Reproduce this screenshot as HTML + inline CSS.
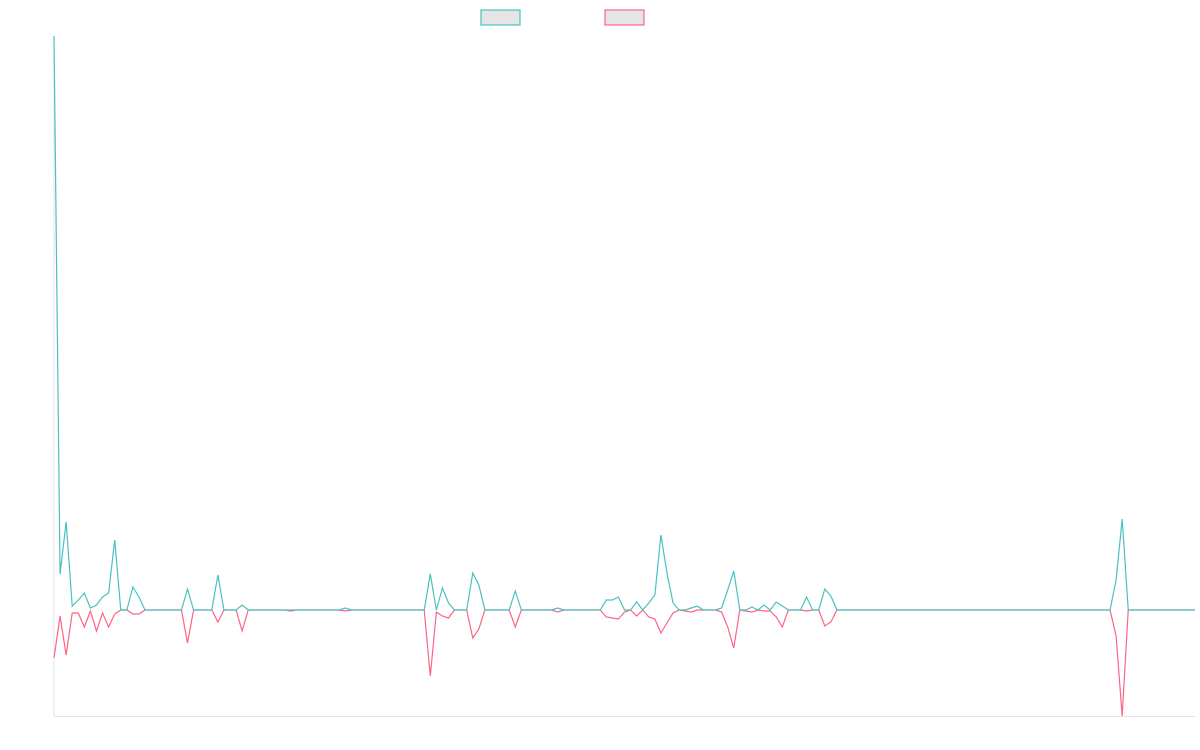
<!DOCTYPE html>
<html><head><meta charset="utf-8">
<style>
html,body{margin:0;padding:0;background:#fff;}
svg{display:block;font-family:"Liberation Sans",sans-serif;}
</style></head>
<body>
<svg id="chart" width="1200" height="750" viewBox="0 0 1200 750" xmlns="http://www.w3.org/2000/svg">
  <rect x="481" y="10" width="39" height="15" fill="#e5e5e5" stroke="rgb(75,192,192)" stroke-width="1.2"/>
  <rect x="605" y="10" width="39" height="15" fill="#e5e5e5" stroke="rgb(255,99,132)" stroke-width="1.2"/>
  <line x1="54" y1="36" x2="54" y2="716" stroke="#e3e3e3" stroke-width="1"/>
  <line x1="54" y1="716.5" x2="1195" y2="716.5" stroke="#e3e3e3" stroke-width="1"/>
  <g id="series"></g>
</svg>
<script>
const seriesA = [
574,36,88,4,10,17,2,5,13,17,
70,0,0,23,13,0,0,0,0,0,
0,0,21,0,0,0,0,35,0,0,
0,5,0,0,0,0,0,0,0,0,
0,0,0,0,0,0,0,0,2,0,
0,0,0,0,0,0,0,0,0,0,
0,0,36,0,22,7,0,0,0,37,
25,0,0,0,0,0,19,0,0,0,
0,0,0,2,0,0,0,0,0,0,
0,10,10,13,0,0,8,0,7,15,
75,37,7,0,0,2,4,0,0,0,
2,20,39,0,0,3,0,5,0,8,
4,0,0,0,13,0,0,21,14,0,
0,0,0,0,0,0,0,0,0,0,
0,0,0,0,0,0,0,0,0,0,
0,0,0,0,0,0,0,0,0,0,
0,0,0,0,0,0,0,0,0,0,
0,0,0,0,0,30,91,0,0,0,
0,0,0,0,0,0,0,0,0
];
const seriesB = [
-48,-6,-45,-3,-3,-17,-1,-21,-3,-17,
-4,0,0,-4,-4,0,0,0,0,0,
0,0,-33,0,0,0,0,-12,0,0,
0,-21,0,0,0,0,0,0,0,-1,
0,0,0,0,0,0,0,0,-1,0,
0,0,0,0,0,0,0,0,0,0,
0,0,-66,-2,-6,-8,0,0,0,-28,
-19,0,0,0,0,0,-17,0,0,0,
0,0,0,-2,0,0,0,0,0,0,
0,-7,-8,-9,-2,0,-6,0,-7,-9,
-23,-13,-3,0,-1,-2,0,0,0,0,
-2,-17,-38,0,-1,-2,0,-1,-1,-7,
-17,0,0,0,-1,0,0,-16,-12,0,
0,0,0,0,0,0,0,0,0,0,
0,0,0,0,0,0,0,0,0,0,
0,0,0,0,0,0,0,0,0,0,
0,0,0,0,0,0,0,0,0,0,
0,0,0,0,0,-26,-106,0,0,0,
0,0,0,0,0,0,0,0,0
];
const yMin = -106, yMax = 574;
const X0 = 54, X1 = 1195, Y0 = 716, Y1 = 36;
function xPos(i, n){ return X0 + (X1 - X0) * i / (n - 1); }
function yPos(v){ return Y0 - (v - yMin) / (yMax - yMin) * (Y0 - Y1); }
const g = document.getElementById('series');
function draw(data, color, name){
  const pts = data.map((v,i)=> xPos(i,data.length).toFixed(2)+','+yPos(v).toFixed(2)).join(' ');
  const pl = document.createElementNS('http://www.w3.org/2000/svg','polyline');
  pl.setAttribute('points', pts);
  pl.setAttribute('fill','none');
  pl.setAttribute('stroke',color);
  pl.setAttribute('stroke-width','1.2');
  pl.setAttribute('stroke-linejoin','miter');
  
  
  g.appendChild(pl);
}
draw(seriesB, 'rgb(255,99,132)', 'series-2-line');
draw(seriesA, 'rgb(75,192,192)', 'series-1-line');
</script>
</body></html>
